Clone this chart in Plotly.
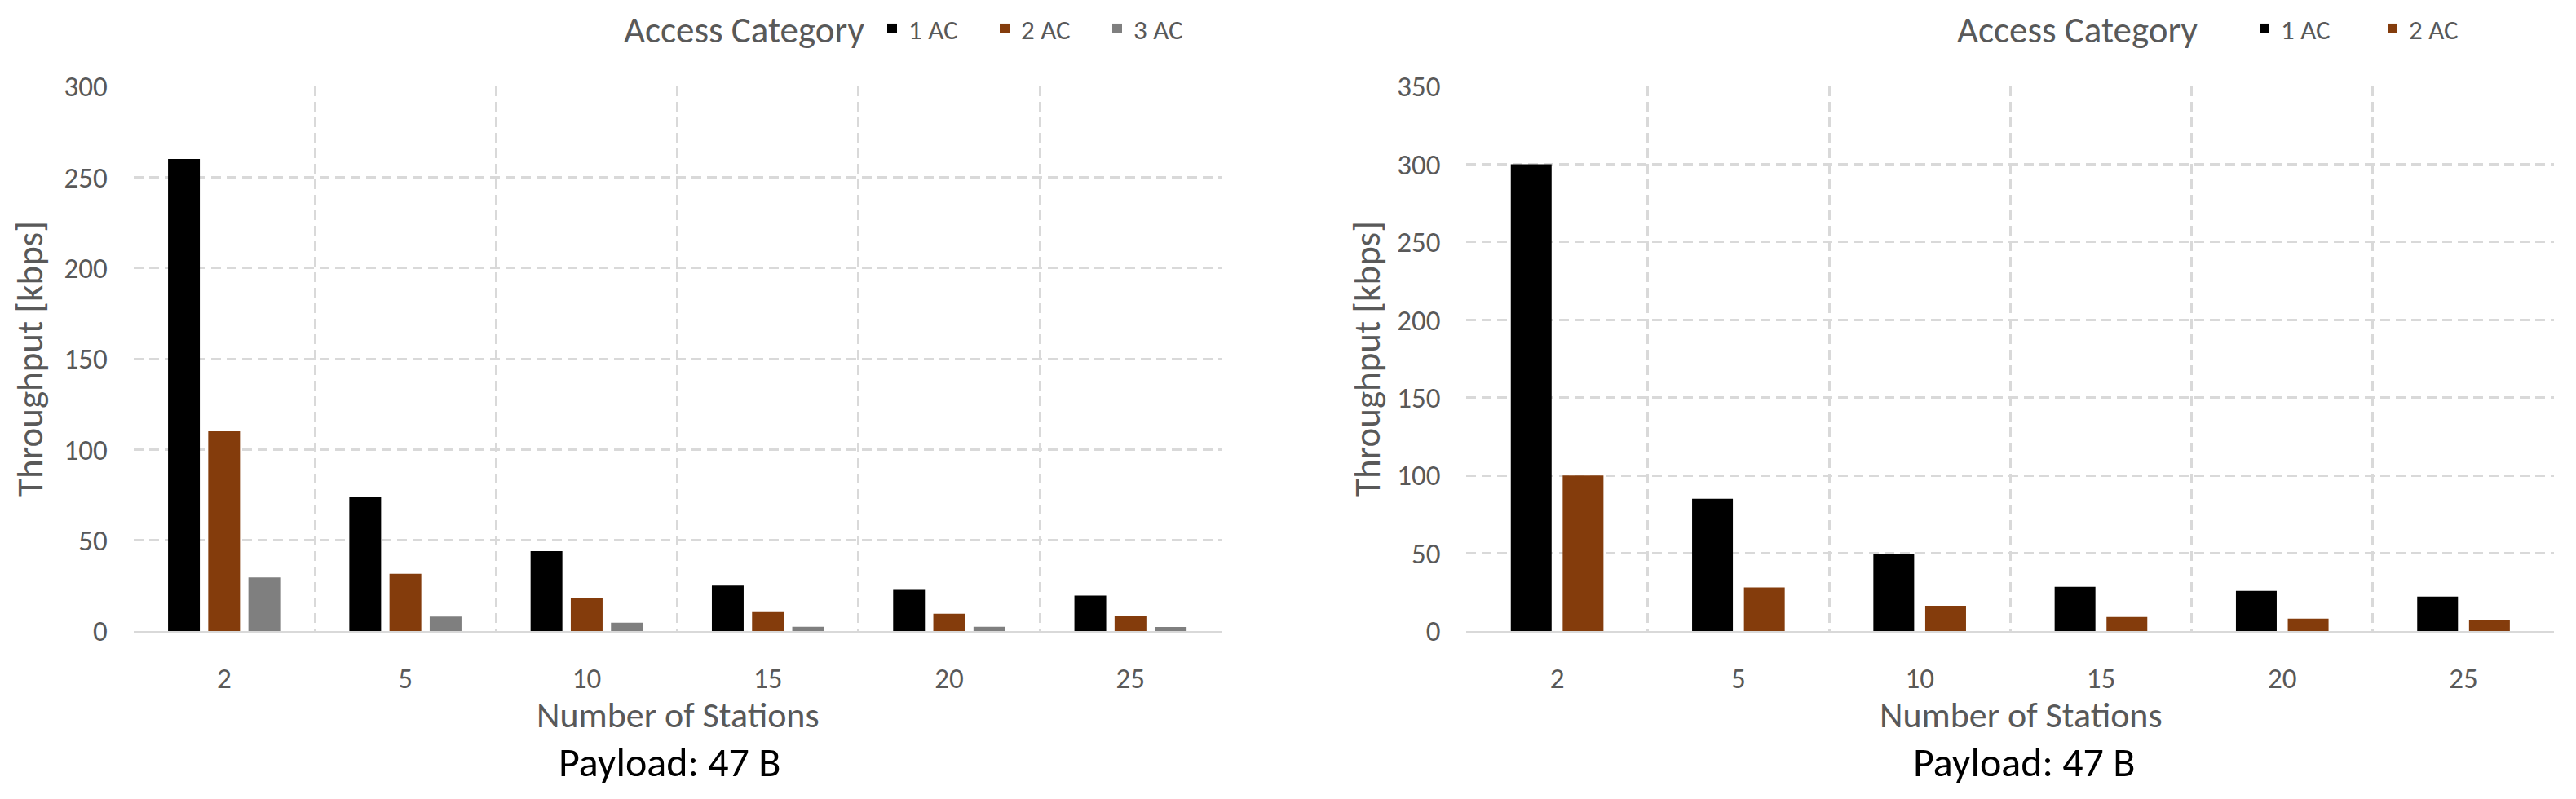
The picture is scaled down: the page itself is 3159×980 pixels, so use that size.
import plotly.graph_objects as go

# ---------------- data ----------------
stations = ["2", "5", "10", "15", "20", "25"]

left_1ac = [260, 74, 44, 25, 22.7, 19.5]
left_2ac = [110, 31.5, 18, 10.4, 9.5, 8.2]
left_3ac = [29.5, 8, 4.6, 2.4, 2.4, 2.2]

right_1ac = [300, 85, 49.7, 28.4, 25.8, 22.2]
right_2ac = [100, 28, 16.2, 9.1, 8, 7]

series_names = ["1 AC", "2 AC", "3 AC"]
legend_title = "Access Category"
y_title = "Throughput [kbps]"
x_title = "Number of Stations"
sub_caption = "Payload: 47 B"

left_ticks = [0, 50, 100, 150, 200, 250, 300]
right_ticks = [0, 50, 100, 150, 200, 250, 300, 350]

# ---------------- style ----------------
W, H = 3159, 980
FONT = "Calibri, Carlito, Lato, sans-serif"
GRAY_TXT = "#595959"
GRID = "#d9d9d9"
COLORS = ["#000000", "#843C0C", "#7F7F7F"]


def px(x):
    return x / W


def py(y):
    return 1 - y / H


fig = go.Figure()

# left subplot bar geometry (fractions of a category)
lw = 0.1754
lstep = 0.2217
loffs = [-0.3094, -0.3094 + lstep, -0.3094 + 2 * lstep]
for name, vals, col, off in zip(series_names, [left_1ac, left_2ac, left_3ac], COLORS, loffs):
    fig.add_trace(go.Bar(
        x=stations, y=vals, name=name, marker=dict(color=col, line=dict(width=0)),
        width=lw, offset=off, xaxis="x", yaxis="y", legend="legend",
    ))

rw = 0.225
roffs = [-0.2555, 0.0306]
for name, vals, col, off in zip(series_names[:2], [right_1ac, right_2ac], COLORS[:2], roffs):
    fig.add_trace(go.Bar(
        x=stations, y=vals, name=name, marker=dict(color=col, line=dict(width=0)),
        width=rw, offset=off, xaxis="x2", yaxis="y2", legend="legend2",
    ))

ydom = [py(774), py(106)]

xcommon = dict(
    type="category", tickson="boundaries", showgrid=True, gridcolor=GRID,
    gridwidth=2.5, griddash="12px,7px", showline=True, linecolor=GRID, linewidth=3,
    ticks="", tickfont=dict(family=FONT, size=35, color=GRAY_TXT),
    ticklabelstandoff=25, automargin=False, fixedrange=True,
)
ycommon = dict(
    showgrid=True, gridcolor=GRID, gridwidth=2.5, griddash="12px,7px",
    zeroline=False, showline=False, ticks="",
    tickfont=dict(family=FONT, size=35, color=GRAY_TXT),
    ticklabelstandoff=31, automargin=False, fixedrange=True,
)

legend_common = dict(
    orientation="h", yanchor="middle", y=py(35),
    bgcolor="rgba(0,0,0,0)",
    font=dict(family=FONT, size=33, color=GRAY_TXT),
    entrywidthmode="pixels", traceorder="normal",
)

fig.update_layout(
    width=W, height=H,
    margin=dict(l=0, r=0, t=0, b=0),
    paper_bgcolor="white", plot_bgcolor="white",
    barmode="overlay",
    xaxis=dict(domain=[px(163.7), px(1497.5)], anchor="y", **xcommon),
    yaxis=dict(domain=ydom, anchor="x", range=[0, 300], tickvals=left_ticks, **ycommon),
    xaxis2=dict(domain=[px(1798.4), px(3132.2)], anchor="y2", **xcommon),
    yaxis2=dict(domain=ydom, anchor="x2", range=[0, 350], tickvals=right_ticks, **ycommon),
    legend=dict(x=px(1074), xanchor="left", entrywidth=93, **legend_common),
    legend2=dict(x=px(2757), xanchor="left", entrywidth=112, **legend_common),
    showlegend=True,
)

annots = []
for cx_title, cx_cap, ytx, lgx in [(831, 821, 36, 763), (2478, 2482, 1676, 2398)]:
    annots.append(dict(text=legend_title, x=px(lgx), y=py(36), xref="paper", yref="paper",
                       xanchor="left", yanchor="middle", showarrow=False,
                       font=dict(family=FONT, size=45, color=GRAY_TXT)))
    annots.append(dict(text=x_title, x=px(cx_title), y=py(877), xref="paper", yref="paper",
                       xanchor="center", yanchor="middle", showarrow=False,
                       font=dict(family=FONT, size=44, color=GRAY_TXT)))
    annots.append(dict(text=sub_caption, x=px(cx_cap), y=py(934), xref="paper", yref="paper",
                       xanchor="center", yanchor="middle", showarrow=False,
                       font=dict(family=FONT, size=50, color="#000000")))
    annots.append(dict(text=y_title, x=px(ytx), y=py(440), xref="paper", yref="paper",
                       xanchor="center", yanchor="middle", showarrow=False, textangle=-90,
                       font=dict(family=FONT, size=45, color=GRAY_TXT)))
fig.update_layout(annotations=annots)

fig.write_html("out.html")
